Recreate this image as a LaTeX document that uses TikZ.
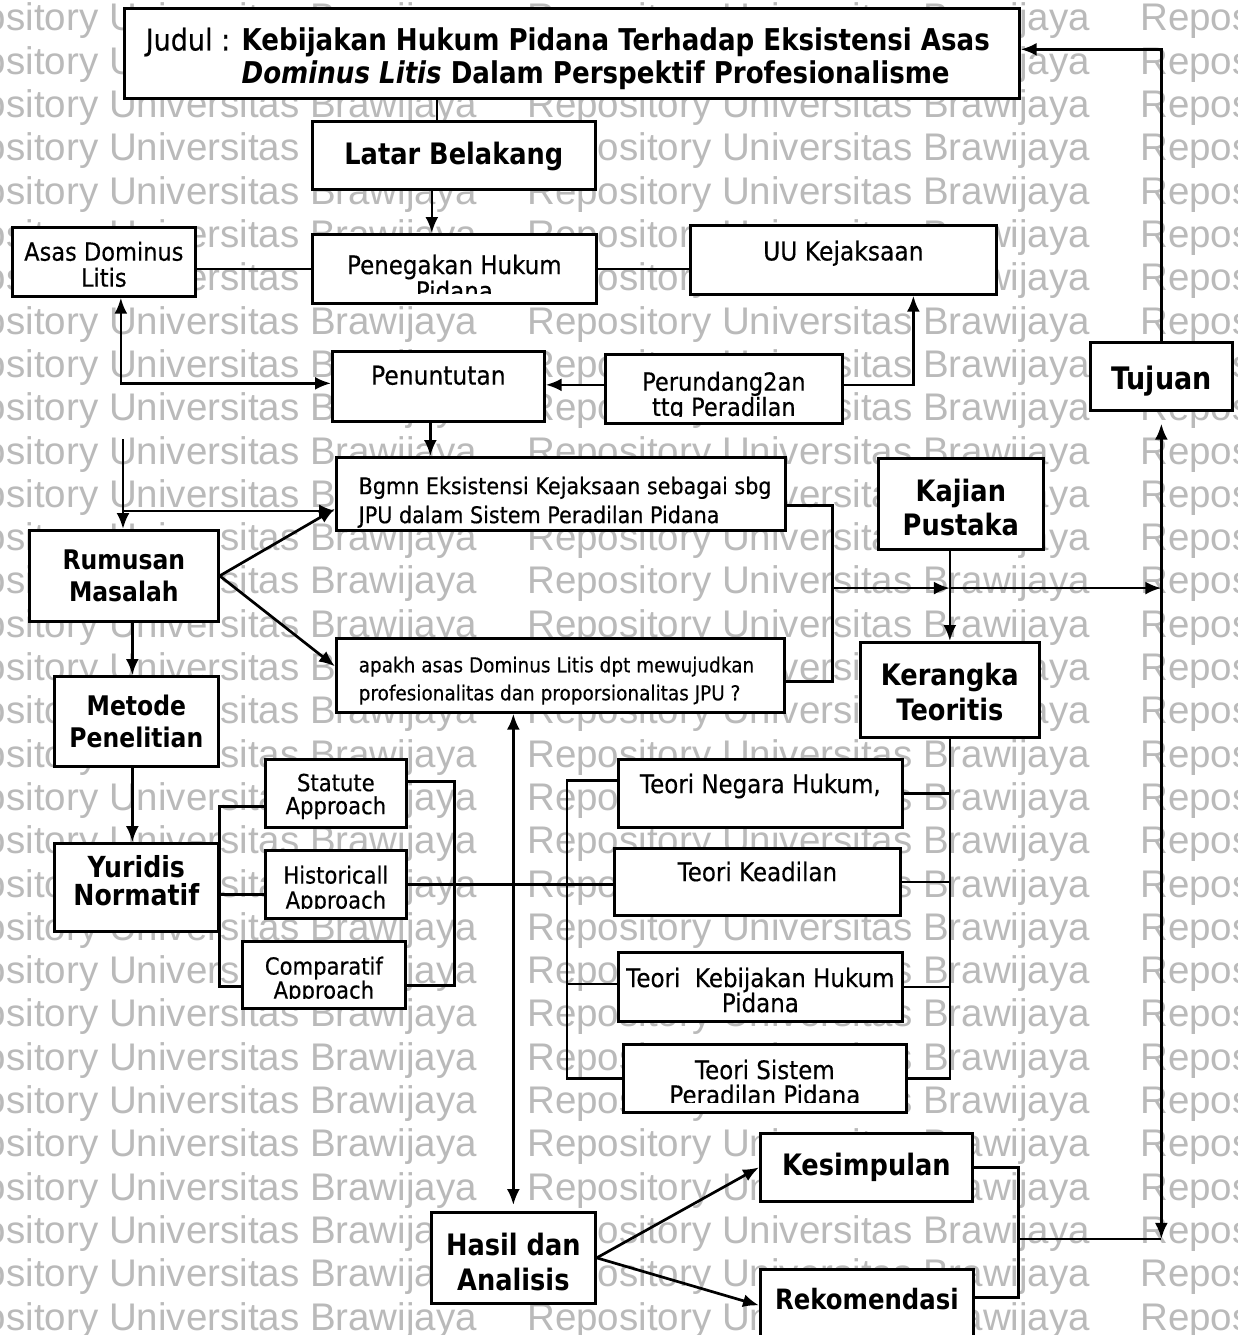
\documentclass[tikz,border=0pt]{standalone}
\usepackage{fontspec}
\setmainfont{DejaVu Sans}[UprightFeatures={FakeStretch=0.9,FakeBold=0.4},BoldFeatures={FakeStretch=0.87},BoldItalicFeatures={FakeStretch=0.87}]
\newfontfamily\wmfont{Liberation Sans}
\usetikzlibrary{arrows.meta,calc}

\newcommand{\fsz}[2]{\fontsize{#1}{#2}\selectfont}
% text sitting at the top of a box, cut off near its lower edge
\newcommand{\intxt}[5][north]{%
  \clip ([yshift=#4]path picture bounding box.south west)
    rectangle (path picture bounding box.north east);
  \node[txt,anchor=#1,#3] at ([#2]path picture bounding box.#1) {#5};}

\begin{document}
\begin{tikzpicture}[x=1pt,y=-1pt
  ,line width=2.7pt
  ,>={Latex[length=16pt,width=13pt]}]
  \tikzstyle{box}=[draw,fill=white,anchor=north west,inner sep=0pt]
  \tikzstyle{txt}=[draw=none,fill=none,inner sep=0pt,align=center,minimum width=0pt,minimum height=0pt]
  \tikzstyle{wm}=[anchor=base west,inner sep=0pt,text=black!27,font=\wmfont\fsz{38.5}{40}]

  \useasboundingbox (0,0) rectangle (1237,1335);
  \fill[white] (0,0) rectangle (1237,1335);

  % watermark rows
  \foreach \r in {0,...,30}
    \foreach \c in {0,1,2}
      \node[wm] (wm-\r-\c) at (-87+613*\c,31+43.3*\r) {Repository Universitas Brawijaya};

  % top part
  \node[box,minimum width=895,minimum height=90
    ,path picture={\intxt[north west]{xshift=20,yshift=-18}{font=\fsz{30}{33},align=left}{0}{Judul : \textbf{Kebijakan Hukum Pidana Terhadap Eksistensi Asas}\\\phantom{Judul : }\textbf{\textit{Dominus Litis} Dalam Perspektif Profesionalisme}}}]
    (judul) at (123,7) {};
  \node[box,minimum width=283,minimum height=68
    ,path picture={\intxt{yshift=-19}{font=\bfseries\fsz{29.5}{34}}{0}{Latar Belakang}}]
    (latar) at (311,120) {};
  \node[box,minimum width=183,minimum height=69
    ,path picture={\intxt{yshift=-13}{font=\fsz{25}{26}}{0}{Asas Dominus\\Litis}}]
    (asas) at (11,226) {};
  \node[box,minimum width=284,minimum height=69
    ,path picture={\intxt{yshift=-19}{font=\fsz{25.5}{26}}{10}{Penegakan Hukum\\Pidana}}]
    (pen) at (311,233) {};
  \node[box,minimum width=306,minimum height=69
    ,path picture={\intxt{yshift=-14}{font=\fsz{26}{30}}{0}{UU Kejaksaan}}]
    (uu) at (689,224) {};
  \node[box,minimum width=212,minimum height=70
    ,path picture={\intxt{yshift=-13}{font=\fsz{26}{30}}{0}{Penuntutan}}]
    (pnt) at (331,350) {};
  \node[box,minimum width=237,minimum height=69
    ,path picture={\intxt{yshift=-16}{font=\fsz{25}{22}}{7}{Perundang2an\\ttg Peradilan}}]
    (prd) at (604,353) {};

  % rumusan masalah
  \node[box,minimum width=449,minimum height=73
    ,path picture={\intxt[north west]{xshift=21,yshift=-18}{font=\fsz{23}{29},align=left}{0}{Bgmn Eksistensi Kejaksaan sebagai sbg\\JPU dalam Sistem Peradilan Pidana}}]
    (bgmn) at (335,456) {};
  \node[box,minimum width=448,minimum height=74
    ,path picture={\intxt[north west]{xshift=21,yshift=-17}{font=\fsz{20.5}{28},align=left}{0}{apakh asas Dominus Litis dpt mewujudkan\\profesionalitas dan proporsionalitas JPU ?}}]
    (apakh) at (335,637) {};
  \node[box,minimum width=189,minimum height=91
    ,path picture={\intxt{yshift=-18}{font=\bfseries\fsz{27}{32}}{0}{Rumusan\\Masalah}}]
    (rum) at (28,529) {};
  \node[box,minimum width=165,minimum height=91
    ,path picture={\intxt{yshift=-19}{font=\bfseries\fsz{29.5}{34}}{0}{Kajian\\Pustaka}}]
    (kaj) at (877,457) {};
  \node[box,minimum width=179,minimum height=95
    ,path picture={\intxt{yshift=-19}{font=\bfseries\fsz{29.5}{35}}{0}{Kerangka\\Teoritis}}]
    (ker) at (859,641) {};
  \node[box,minimum width=142,minimum height=68
    ,path picture={\intxt{yshift=-22}{font=\bfseries\fsz{31}{34}}{0}{Tujuan}}]
    (tuj) at (1089,341) {};

  % metode
  \node[box,minimum width=164,minimum height=90
    ,path picture={\intxt{yshift=-17}{font=\bfseries\fsz{27}{32}}{0}{Metode\\Penelitian}}]
    (met) at (53,675) {};
  \node[box,minimum width=164,minimum height=88
    ,path picture={\intxt{yshift=-11}{font=\bfseries\fsz{29}{28}}{0}{Yuridis\\Normatif}}]
    (yur) at (53,842) {};
  \node[box,minimum width=141,minimum height=68
    ,path picture={\intxt{yshift=-13}{font=\fsz{23.5}{23}}{0}{Statute\\Approach}}]
    (sta) at (264,758) {};
  \node[box,minimum width=141,minimum height=68
    ,path picture={\intxt{yshift=-14}{font=\fsz{23.5}{25}}{10}{Historicall\\Approach}}]
    (his) at (264,849) {};
  \node[box,minimum width=163,minimum height=67
    ,path picture={\intxt{yshift=-14}{font=\fsz{23.5}{24}}{10}{Comparatif\\Approach}}]
    (com) at (241,940) {};

  % teori
  \node[box,minimum width=284,minimum height=68
    ,path picture={\intxt{yshift=-13}{font=\fsz{25.5}{26}}{0}{Teori Negara Hukum,}}]
    (tng) at (617,758) {};
  \node[box,minimum width=286,minimum height=67
    ,path picture={\intxt{yshift=-12}{font=\fsz{25.5}{26}}{0}{Teori Keadilan}}]
    (tke) at (613,847) {};
  \node[box,minimum width=284,minimum height=69
    ,path picture={\intxt{yshift=-14}{font=\fsz{25.5}{25}}{0}{Teori\ \ Kebijakan Hukum\\Pidana}}]
    (tkb) at (617,951) {};
  \node[box,minimum width=283,minimum height=68
    ,path picture={\intxt{yshift=-14}{font=\fsz{25.5}{25}}{10}{Teori Sistem\\Peradilan Pidana}}]
    (tsi) at (622,1043) {};

  % hasil
  \node[box,minimum width=164,minimum height=91
    ,path picture={\intxt{yshift=-19}{font=\bfseries\fsz{29.5}{35}}{0}{Hasil dan\\Analisis}}]
    (has) at (430,1211) {};
  \node[box,minimum width=212,minimum height=68
    ,path picture={\intxt{yshift=-18}{font=\bfseries\fsz{29.5}{34}}{0}{Kesimpulan}}]
    (kes) at (759,1132) {};
  \node[box,minimum width=213,minimum height=72
    ,path picture={\intxt{yshift=-18}{font=\bfseries\fsz{28}{32}}{0}{Rekomendasi}}]
    (rek) at (759,1268) {};

  % connectors, top
  \coordinate (jl) at ([xshift=-17]latar.north);
  \draw (jl) -- (jl |- judul.south);
  \coordinate (lp) at ([xshift=-22]latar.south);
  \draw[->] (lp) -- (lp |- pen.north);
  \draw (pen.west -| asas.east) -- (pen.west);
  \draw (pen.east) -- (pen.east -| uu.west);
  \coordinate (ap) at ([xshift=17]asas.south);
  \draw[<->] (ap) |- ([yshift=3]pnt.west);
  \coordinate (pp) at ([yshift=4]prd.west);
  \draw[->] (pp) -- (pp -| pnt.east);
  \coordinate (pu) at ([xshift=70]uu.south);
  \draw[->] (pp -| prd.east) -| (pu);
  \coordinate (pb) at ([xshift=-8]pnt.south);
  \draw[->] (pb) -- (pb |- bgmn.north);

  % rumusan
  \coordinate (rq) at (123,439);
  \draw[->] (rq) -- (rq |- rum.north);
  \coordinate (bq) at ([yshift=-17]bgmn.west);
  \draw[->] (bq -| rq) -- (bq);
  \draw[->] (rum.east) -- ([yshift=-15]bgmn.west);
  \draw[->] (rum.east) -- ([yshift=9]apakh.west);
  \coordinate (r1) at ([xshift=46,yshift=-11.5]bgmn.east);
  \coordinate (r2) at ([yshift=-6]apakh.east);
  \draw (r1 -| bgmn.east) -- (r1) -- (r1 |- r2) -- (r2);
  \coordinate (r3) at ($(r1)!0.47!(r1 |- r2)$);
  \draw[->] (r3) -- (r3 -| ker.north);
  \draw[->] (r3 -| ker.north) -- (r3 -| tuj.south);
  \draw[->] (ker.north |- kaj.south) -- (ker.north);
  \draw[->] (tuj.north) |- ([yshift=4]judul.east);

  % metode
  \coordinate (rm) at ([xshift=-4]met.north);
  \draw[->] (rm |- rum.south) -- (rm);
  \coordinate (my) at ([xshift=-4]yur.north);
  \draw[->] (my |- met.south) -- (my);
  \coordinate (ys) at ([yshift=-13]sta.west);
  \coordinate (yc) at ([yshift=-11.5]com.west);
  \draw (ys) -| (yc -| yur.east) -- (yc);
  \coordinate (yh) at ([yshift=-10]his.west);
  \draw (yh) -- (yh -| yur.east);
  \coordinate (as) at ([yshift=12]sta.east);
  \coordinate (ac) at ([xshift=48,yshift=-10.5]com.east);
  \draw (as) -| (ac) -- (ac -| com.east);
  \draw (his.east) -- (his.east -| tke.west);

  % teori
  \coordinate (tl) at ([xshift=-55]tsi.west);
  \coordinate (tn) at ([yshift=13]tng.west);
  \draw (tn) -| (tl) -- (tsi.west);
  \coordinate (tk) at ([yshift=3]tkb.west);
  \draw (tk) -- (tk -| tl);
  \draw (ker.south) |- (tsi.east);
  \draw (tng.east) -- (tng.east -| ker.south);
  \draw (tke.east) -- (tke.east -| ker.south);
  \draw (tkb.east) -- (tkb.east -| ker.south);

  % hasil
  \draw[<->] (has.north |- apakh.south) -- ([yshift=6]has.north);
  \draw[->] (has.east) -- (kes.west);
  \draw[->] (has.east) -- (rek.west);
  \coordinate (kr) at ([xshift=45]kes.east);
  \coordinate (rr) at ([yshift=8]rek.east);
  \draw (kes.east) -- (kr) |- (rr);
  \coordinate (kt) at ($(kr)!0.55!(kr |- rr)$);
  \draw[<->] (kt -| tuj.south) -- ([yshift=-12]tuj.south);
  \draw (kt) -- (kt -| tuj.south);
\end{tikzpicture}
\end{document}
